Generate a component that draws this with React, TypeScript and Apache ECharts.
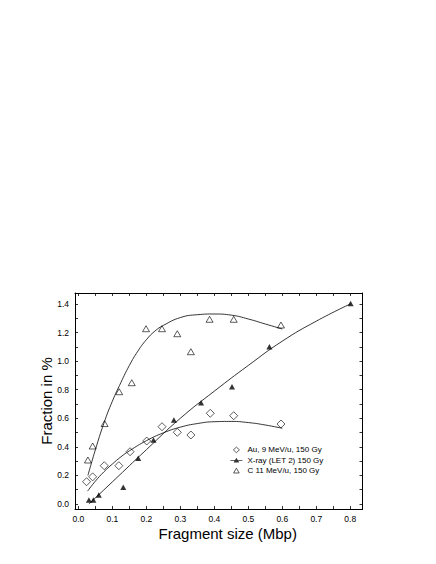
import React, { useEffect, useRef } from "react";
import * as echarts from "echarts";

// measured points (fragment size in Mbp, fraction in %)
const auSize = [0.024, 0.042, 0.076, 0.119, 0.152, 0.201, 0.246, 0.291, 0.331, 0.388, 0.457, 0.596];
const auFraction = [0.156, 0.19, 0.268, 0.268, 0.366, 0.441, 0.541, 0.502, 0.483, 0.635, 0.618, 0.56];

const xraySize = [0.031, 0.044, 0.06, 0.132, 0.176, 0.221, 0.281, 0.361, 0.452, 0.562, 0.801];
const xrayFraction = [0.028, 0.028, 0.063, 0.118, 0.32, 0.448, 0.588, 0.709, 0.821, 1.101, 1.404];

const cSize = [0.028, 0.042, 0.077, 0.12, 0.157, 0.199, 0.246, 0.291, 0.331, 0.386, 0.457, 0.596];
const cFraction = [0.308, 0.406, 0.563, 0.786, 0.849, 1.227, 1.227, 1.192, 1.066, 1.293, 1.293, 1.253];

// fitted curves
const auFitSize = [0.027, 0.05, 0.075, 0.1, 0.125, 0.15, 0.2, 0.25, 0.3, 0.35, 0.4, 0.45, 0.5, 0.55, 0.6];
const auFitFraction = [0.09, 0.16, 0.225, 0.28, 0.33, 0.372, 0.443, 0.498, 0.538, 0.563, 0.576, 0.578, 0.57, 0.553, 0.53];

const xrayFitSize = [0.031, 0.1, 0.2, 0.3, 0.4, 0.5, 0.6, 0.7, 0.8];
const xrayFitFraction = [0.0, 0.155, 0.38, 0.6, 0.79, 0.97, 1.14, 1.28, 1.4];

const cFitSize = [0.028, 0.05, 0.075, 0.1, 0.125, 0.15, 0.175, 0.2, 0.225, 0.25, 0.3, 0.35, 0.4, 0.45, 0.5, 0.55, 0.6];
const cFitFraction = [0.2, 0.38, 0.565, 0.72, 0.85, 0.97, 1.07, 1.15, 1.21, 1.25, 1.305, 1.325, 1.33, 1.322, 1.295, 1.26, 1.225];

const legendNames = ["Au, 9 MeV/u, 150 Gy", "X-ray (LET 2) 150 Gy", "C 11 MeV/u, 150 Gy"];

const FONT = "'Liberation Sans', Arial, sans-serif";

const zip = (xs: number[], ys: number[]) => xs.map((x, i) => [x, ys[i]]);

// only label the round ticks
const xLabel = (v: number) => {
  const k = Math.round(v * 10);
  if (Math.abs(v * 10 - k) > 1e-6 || k < 0 || k > 8) return "";
  return (k / 10).toFixed(1);
};
const yLabel = (v: number) => {
  const k = Math.round(v * 5);
  if (Math.abs(v * 5 - k) > 1e-6 || k < 0 || k > 7) return "";
  return (k / 5).toFixed(1);
};

const X_MIN = -0.01;
const X_MAX = 0.836;
const Y_MIN = -0.035;
const Y_MAX = 1.477;

const tick = { show: true, inside: true, length: 3, lineStyle: { color: "#000", width: 0.8 } };
const line = { show: true, onZero: false, lineStyle: { color: "#000", width: 1 } };

const App: React.FC = () => {
  const chartRef = useRef<HTMLDivElement | null>(null);
  useEffect(() => {
    if (!chartRef.current) return;
    const chart = echarts.init(chartRef.current, null, { renderer: "svg" });

    const option = {
      animation: false,
      backgroundColor: "#fff",
      textStyle: { fontFamily: FONT, color: "#000" },
      grid: { left: 75, right: 73.5, top: 293, bottom: 55 },
      legend: {
        orient: "vertical",
        left: 230,
        top: 445.5,
        padding: 0,
        itemWidth: 12,
        itemHeight: 8,
        itemGap: 2,
        selectedMode: false,
        textStyle: { fontSize: 8, fontFamily: FONT, color: "#000" },
        data: [
          {
            name: legendNames[0],
            icon: "path://M0,0M12,8M6,1.2L9,4L6,6.8L3,4Z",
            itemStyle: { color: "#fff", borderColor: "#000", borderWidth: 0.8 },
          },
          {
            name: legendNames[1],
            icon: "path://M0,0M12,8M0,3.7L12,3.7L12,4.5L0,4.5ZM6,1.5L8.8,6.2L3.2,6.2Z",
            itemStyle: { color: "#000", borderWidth: 0 },
          },
          {
            name: legendNames[2],
            icon: "path://M0,0M12,8M6,1.5L8.8,6.3L3.2,6.3Z",
            itemStyle: { color: "#fff", borderColor: "#000", borderWidth: 0.8 },
          },
        ],
      },
      xAxis: [
        {
          type: "value",
          position: "bottom",
          min: X_MIN,
          max: X_MAX,
          minInterval: 0.05,
          maxInterval: 0.05,
          axisLine: line,
          axisTick: tick,
          splitLine: { show: false },
          axisLabel: { formatter: xLabel, fontSize: 8.5, margin: 5, color: "#000", fontFamily: FONT },
          name: "Fragment size (Mbp)",
          nameLocation: "middle",
          nameGap: 17,
          nameMoveOverlap: false,
          nameTextStyle: { fontSize: 15, fontFamily: FONT, color: "#000", padding: [0, 0, 0, 18], verticalAlign: "top" },
        },
        {
          type: "value",
          position: "top",
          min: X_MIN,
          max: X_MAX,
          minInterval: 0.05,
          maxInterval: 0.05,
          axisLine: line,
          axisTick: tick,
          splitLine: { show: false },
          axisLabel: { show: false },
        },
      ],
      yAxis: [
        {
          type: "value",
          position: "left",
          min: Y_MIN,
          max: Y_MAX,
          minInterval: 0.1,
          maxInterval: 0.1,
          axisLine: line,
          axisTick: tick,
          splitLine: { show: false },
          axisLabel: { formatter: yLabel, fontSize: 8.5, margin: 6, color: "#000", fontFamily: FONT },
          name: "Fraction in %",
          nameLocation: "middle",
          nameGap: 21,
          nameMoveOverlap: false,
          nameTextStyle: { fontSize: 15, fontFamily: FONT, color: "#000" },
        },
        {
          type: "value",
          position: "right",
          min: Y_MIN,
          max: Y_MAX,
          minInterval: 0.1,
          maxInterval: 0.1,
          axisLine: line,
          axisTick: tick,
          splitLine: { show: false },
          axisLabel: { show: false },
        },
      ],
      series: [
        {
          name: "Au fit",
          type: "line",
          data: zip(auFitSize, auFitFraction),
          smooth: true,
          symbol: "none",
          silent: true,
          lineStyle: { color: "#000", width: 0.8 },
        },
        {
          name: "X-ray fit",
          type: "line",
          data: zip(xrayFitSize, xrayFitFraction),
          smooth: true,
          symbol: "none",
          silent: true,
          lineStyle: { color: "#000", width: 0.8 },
        },
        {
          name: "C fit",
          type: "line",
          data: zip(cFitSize, cFitFraction),
          smooth: true,
          symbol: "none",
          silent: true,
          lineStyle: { color: "#000", width: 0.8 },
        },
        {
          name: legendNames[0],
          type: "scatter",
          data: zip(auSize, auFraction),
          symbol: "diamond",
          symbolSize: [8, 8],
          itemStyle: { color: "#fff", borderColor: "#000", borderWidth: 0.8 },
        },
        {
          name: legendNames[1],
          type: "scatter",
          data: zip(xraySize, xrayFraction),
          symbol: "triangle",
          symbolSize: [6, 5.5],
          itemStyle: { color: "#000" },
        },
        {
          name: legendNames[2],
          type: "scatter",
          data: zip(cSize, cFraction),
          symbol: "triangle",
          symbolSize: [7, 6],
          itemStyle: { color: "#fff", borderColor: "#000", borderWidth: 0.8 },
        },
      ],
    };

    chart.setOption(option);
    return () => {
      chart.dispose();
    };
  }, []);

  return (
    <div
      ref={chartRef}
      style={{ position: "fixed", left: 0, top: 0, width: "436px", height: "564px" }}
    />
  );
};

export default App;
